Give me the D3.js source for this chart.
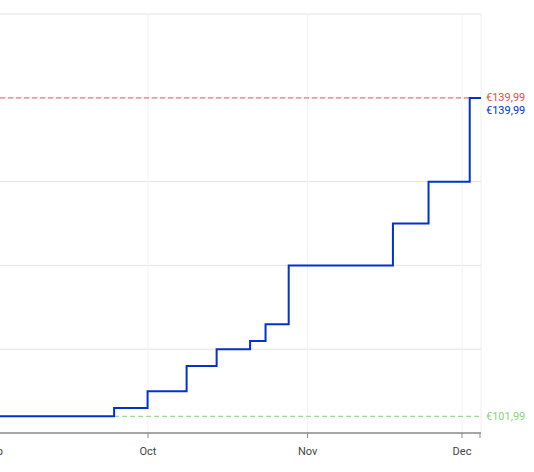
<!DOCTYPE html>
<html><head><meta charset="utf-8">
<script src="https://cdn.jsdelivr.net/npm/d3@7"></script>
<style>body{margin:0;background:#fff}svg{display:block;font-family:Roboto,sans-serif}</style>
</head><body><svg id="c" width="534" height="472"></svg>
<script>
const stepDates = ["2023-08-20T00:00","2023-09-24T10:00","2023-09-30T22:00","2023-10-08T12:00","2023-10-14T08:00","2023-10-20T20:00","2023-10-23T20:00","2023-10-28T08:00","2023-11-17T14:00","2023-11-24T12:00","2023-12-02T12:00","2023-12-05T00:00"];
const stepPrices = [101.99,102.99,104.99,107.99,109.99,110.99,112.99,119.99,124.99,129.99,139.99,139.99];
const yTicks = [100,110,120,130,140,150];
const monthTicks = ["2023-09-01","2023-10-01","2023-11-01","2023-12-01"];
const monthLabels = ["Sep","Oct","Nov","Dec"];
const highPrice = 139.99, lowPrice = 101.99, currentPrice = 139.99;
const fmt = v => "€" + v.toFixed(2).replace(".", ",");

(function(){
const svg = d3.select("#c");
const pL = 0, pR = 481, pT = 14, pB = 433;
const x = d3.scaleTime().domain([new Date("2023-10-01T00:00"), new Date("2023-12-01T00:00")]).range([148, 462]);
const y = d3.scaleLinear().domain([100,150]).range([pB, pT]);
svg.append("clipPath").attr("id","cp").append("rect").attr("x",pL).attr("y",0).attr("width",pR-pL).attr("height",pB);
const g = svg.append("g");

g.selectAll(".hg").data(yTicks.slice(1)).join("line")
  .attr("x1",pL).attr("x2",pR).attr("y1",d=>y(d)).attr("y2",d=>y(d))
  .attr("stroke","#e3e3e3").attr("stroke-width",1);
g.selectAll(".vg").data(monthTicks.slice(1)).join("line")
  .attr("x1",d=>x(new Date(d+"T00:00"))).attr("x2",d=>x(new Date(d+"T00:00"))).attr("y1",pT).attr("y2",pB)
  .attr("stroke","#f2f2f2");
g.append("line").attr("x1",pR).attr("x2",pR).attr("y1",pT).attr("y2",pB).attr("stroke","#eeeeee");

const lowStart = new Date("2023-09-24T10:00");
g.append("line").attr("x1",x(lowStart)).attr("x2",pR).attr("y1",y(lowPrice)).attr("y2",y(lowPrice))
  .attr("stroke","#9ed99a").attr("stroke-dasharray","5,3").attr("stroke-width",1.3);
g.append("line").attr("x1",pL).attr("x2",pR).attr("y1",y(highPrice)).attr("y2",y(highPrice))
  .attr("stroke","#e08080").attr("stroke-dasharray","5,3").attr("stroke-width",1.3);

const data = stepDates.map((d,i)=>({d:new Date(d),v:stepPrices[i]}));
g.append("path").datum(data).attr("clip-path","url(#cp)")
  .attr("d", d3.line().x(d=>x(d.d)).y(d=>y(d.v)).curve(d3.curveStepAfter))
  .attr("fill","none").attr("stroke","#0033cc").attr("stroke-width",2);

const ax = svg.append("g").attr("transform",`translate(0,${pB})`);
ax.append("line").attr("x1",pL).attr("x2",pR).attr("stroke","#888").attr("stroke-width",1.5);
const ticks = monthTicks.map(d=>new Date(d+"T00:00"));
ax.selectAll(".t").data(ticks).join("line").attr("x1",d=>x(d)).attr("x2",d=>x(d)).attr("y1",0).attr("y2",5).attr("stroke","#888");
ax.append("line").attr("x1",pR-1).attr("x2",pR-1).attr("y1",0).attr("y2",5).attr("stroke","#888");
ax.selectAll(".l").data(ticks).join("text").attr("x",d=>x(d)).attr("y",22).attr("text-anchor","middle")
  .attr("font-size",11).attr("fill","#444").text((d,i)=>monthLabels[i]);

svg.append("text").attr("x",486).attr("y",y(highPrice)+3).attr("font-size",11).attr("fill","#d9534f").text(fmt(highPrice));
svg.append("text").attr("x",486).attr("y",y(currentPrice)+16).attr("font-size",11).attr("fill","#0033cc").text(fmt(currentPrice));
svg.append("text").attr("x",486).attr("y",y(lowPrice)+4).attr("font-size",11).attr("fill","#8fcf7f").text(fmt(lowPrice));
})();
</script></body></html>
